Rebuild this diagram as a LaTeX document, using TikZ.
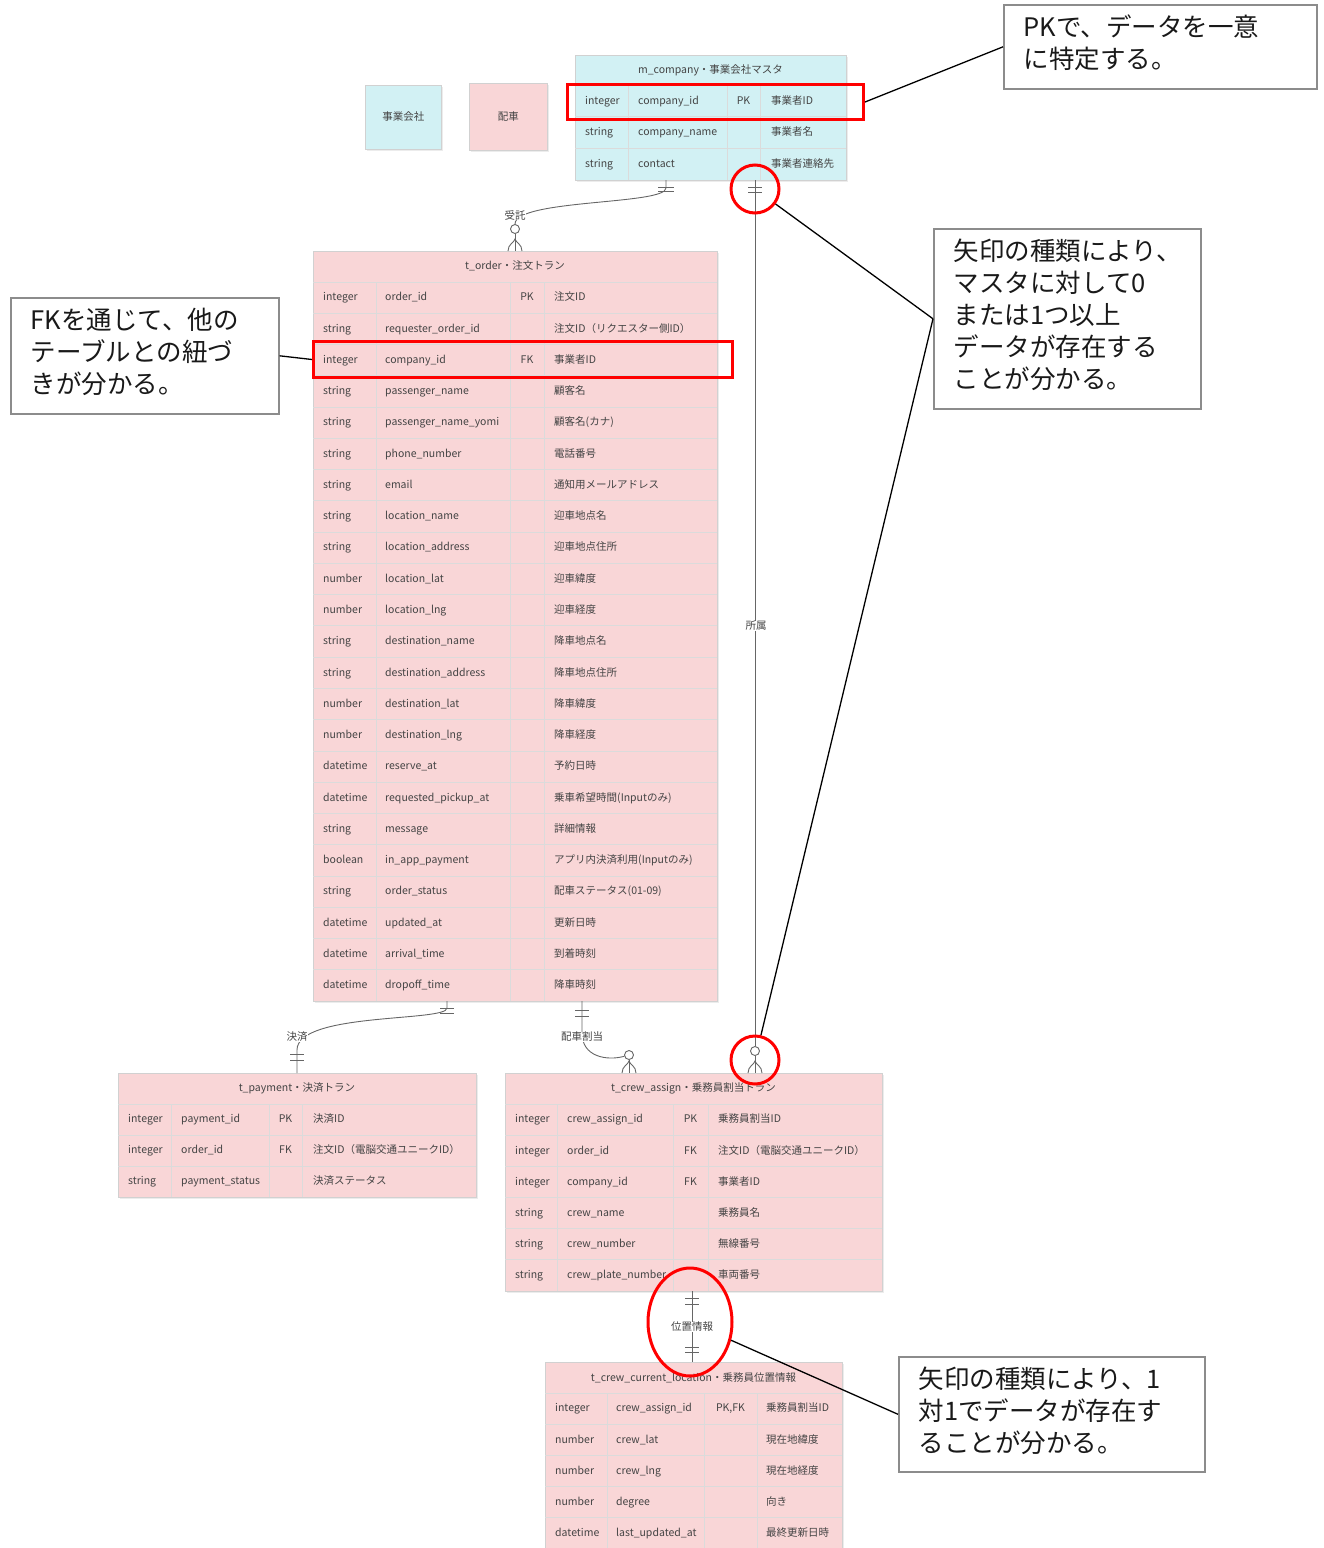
\documentclass[tikz,border=0pt]{standalone}
\usepackage{fontspec}
\setmainfont{Noto Sans CJK JP}
\usetikzlibrary{shapes.geometric,shadows}
\definecolor{cyanfill}{HTML}{D2F1F4}
\definecolor{pinkfill}{HTML}{F9D6D7}
\definecolor{inktext}{HTML}{444444}
\tikzset{
TABLE/.style={draw=black!18,line width=0.8pt,fill=#1,drop shadow={opacity=0.15,shadow xshift=1.5pt,shadow yshift=-1.5pt}},
TABLE/.default=pinkfill,
GRID/.style={draw=black!14,line width=0.8pt},
CELL/.style={inner sep=0pt,text=inktext,font=\fontsize{10.5}{12}\selectfont,text height=1.6ex,text depth=.4ex},
ERLINE/.style={draw=black!60,line width=0.9pt},
ERRING/.style={circle,draw=black!60,line width=0.9pt,fill=white,minimum size=9pt,inner sep=0pt},
ERLABEL/.style={fill=white,inner sep=0.5pt,text=inktext,font=\fontsize{10.5}{12}\selectfont},
HILITE/.style={draw=red,line width=3pt,inner sep=0pt},
NOTE/.style={draw=black!45,line width=1.6pt,fill=white,anchor=north west,align=left,inner xsep=20pt,text height=14pt,text=black!90,font=\fontsize{25.5}{32}\selectfont},
POINTER/.style={draw=black,line width=1.3pt},
}
\begin{document}
\begin{tikzpicture}[x=1pt,y=-1pt] %ER diagram
	\useasboundingbox (0,0) rectangle (1324,1548);
	\node[TABLE=cyanfill,CELL,minimum width=76pt,minimum height=64pt,anchor=north west] (legcompany) at (365,85) {事業会社};
	\node[TABLE,CELL,minimum width=78pt,minimum height=67pt,anchor=north west] (legdispatch) at (469,83) {配車};
	% m_company
	\node[TABLE=cyanfill,minimum width=271pt,minimum height=125pt,anchor=north west] (company) at (575,55) {};
	\node[CELL] (company-title) at (710.5,70) {m\_company・事業会社マスタ};
	\path[GRID] (575,85) -- (846,85);
	\foreach \x in {628,727,760} \path[GRID] (\x,85) -- (\x,180);
	\foreach \ftype/\fname/\fkey/\fnote [count=\i] in {
		integer/company\_id/PK/事業者ID,
		string/company\_name/{}/事業者名,
		string/contact/{}/事業者連絡先}{
		\pgfmathsetmacro\ry{85+(\i-0.5)*31.67}
		\ifnum\i>1 \path[GRID] (575,{85+(\i-1)*31.67}) -- (846,{85+(\i-1)*31.67}); \fi
		\node[CELL,anchor=west] (company-\i-type) at (585,\ry) {\ftype};
		\node[CELL,anchor=west] (company-\i-name) at (638,\ry) {\fname};
		\node[CELL] (company-\i-key) at (743.5,\ry) {\fkey};
		\node[CELL,anchor=west] (company-\i-note) at (771,\ry) {\fnote};
	}
	% t_order
	\node[TABLE,minimum width=404pt,minimum height=750pt,anchor=north west] (order) at (313,251) {};
	\node[CELL] (order-title) at (515,266) {t\_order・注文トラン};
	\path[GRID] (313,282) -- (717,282);
	\foreach \x in {376,510,544} \path[GRID] (\x,282) -- (\x,1001);
	\foreach \ftype/\fname/\fkey/\fnote [count=\i] in {
		integer/order\_id/PK/注文ID,
		string/requester\_order\_id/{}/注文ID（リクエスター側ID）,
		integer/company\_id/FK/事業者ID,
		string/passenger\_name/{}/顧客名,
		string/passenger\_name\_yomi/{}/顧客名(カナ),
		string/phone\_number/{}/電話番号,
		string/email/{}/通知用メールアドレス,
		string/location\_name/{}/迎車地点名,
		string/location\_address/{}/迎車地点住所,
		number/location\_lat/{}/迎車緯度,
		number/location\_lng/{}/迎車経度,
		string/destination\_name/{}/降車地点名,
		string/destination\_address/{}/降車地点住所,
		number/destination\_lat/{}/降車緯度,
		number/destination\_lng/{}/降車経度,
		datetime/reserve\_at/{}/予約日時,
		datetime/requested\_pickup\_at/{}/乗車希望時間(Inputのみ),
		string/message/{}/詳細情報,
		boolean/in\_app\_payment/{}/アプリ内決済利用(Inputのみ),
		string/order\_status/{}/配車ステータス(01-09),
		datetime/updated\_at/{}/更新日時,
		datetime/arrival\_time/{}/到着時刻,
		datetime/dropoff\_time/{}/降車時刻}{
		\pgfmathsetmacro\ry{282+(\i-0.5)*31.26}
		\ifnum\i>1 \path[GRID] (313,{282+(\i-1)*31.26}) -- (717,{282+(\i-1)*31.26}); \fi
		\node[CELL,anchor=west] (order-\i-type) at (323,\ry) {\ftype};
		\node[CELL,anchor=west] (order-\i-name) at (385,\ry) {\fname};
		\node[CELL] (order-\i-key) at (527,\ry) {\fkey};
		\node[CELL,anchor=west] (order-\i-note) at (554,\ry) {\fnote};
	}
	% t_payment
	\node[TABLE,minimum width=358pt,minimum height=124pt,anchor=north west] (payment) at (118,1073) {};
	\node[CELL] (payment-title) at (297,1088) {t\_payment・決済トラン};
	\path[GRID] (118,1104) -- (476,1104);
	\foreach \x in {171,269,302} \path[GRID] (\x,1104) -- (\x,1197);
	\foreach \ftype/\fname/\fkey/\fnote [count=\i] in {
		integer/payment\_id/PK/決済ID,
		integer/order\_id/FK/注文ID（電脳交通ユニークID）,
		string/payment\_status/{}/決済ステータス}{
		\pgfmathsetmacro\ry{1104+(\i-0.5)*31}
		\ifnum\i>1 \path[GRID] (118,{1104+(\i-1)*31}) -- (476,{1104+(\i-1)*31}); \fi
		\node[CELL,anchor=west] (payment-\i-type) at (128,\ry) {\ftype};
		\node[CELL,anchor=west] (payment-\i-name) at (181,\ry) {\fname};
		\node[CELL] (payment-\i-key) at (285.5,\ry) {\fkey};
		\node[CELL,anchor=west] (payment-\i-note) at (313,\ry) {\fnote};
	}
	% t_crew_assign
	\node[TABLE,minimum width=377pt,minimum height=218pt,anchor=north west] (assign) at (505,1073) {};
	\node[CELL] (assign-title) at (693.5,1088) {t\_crew\_assign・乗務員割当トラン};
	\path[GRID] (505,1104) -- (882,1104);
	\foreach \x in {557,673,708} \path[GRID] (\x,1104) -- (\x,1291);
	\foreach \ftype/\fname/\fkey/\fnote [count=\i] in {
		integer/crew\_assign\_id/PK/乗務員割当ID,
		integer/order\_id/FK/注文ID（電脳交通ユニークID）,
		integer/company\_id/FK/事業者ID,
		string/crew\_name/{}/乗務員名,
		string/crew\_number/{}/無線番号,
		string/crew\_plate\_number/{}/車両番号}{
		\pgfmathsetmacro\ry{1104+(\i-0.5)*31.17}
		\ifnum\i>1 \path[GRID] (505,{1104+(\i-1)*31.17}) -- (882,{1104+(\i-1)*31.17}); \fi
		\node[CELL,anchor=west] (assign-\i-type) at (515,\ry) {\ftype};
		\node[CELL,anchor=west] (assign-\i-name) at (567,\ry) {\fname};
		\node[CELL] (assign-\i-key) at (690.5,\ry) {\fkey};
		\node[CELL,anchor=west] (assign-\i-note) at (718,\ry) {\fnote};
	}
	% t_crew_current_location
	\node[TABLE,minimum width=297pt,minimum height=187pt,anchor=north west] (location) at (545,1362) {};
	\node[CELL] (location-title) at (693.5,1378) {t\_crew\_current\_location・乗務員位置情報};
	\path[GRID] (545,1393) -- (842,1393);
	\foreach \x in {607,704,757} \path[GRID] (\x,1393) -- (\x,1549);
	\foreach \ftype/\fname/\fkey/\fnote [count=\i] in {
		integer/crew\_assign\_id/{PK,FK}/乗務員割当ID,
		number/crew\_lat/{}/現在地緯度,
		number/crew\_lng/{}/現在地経度,
		number/degree/{}/向き,
		datetime/last\_updated\_at/{}/最終更新日時}{
		\pgfmathsetmacro\ry{1393+(\i-0.5)*31.2}
		\ifnum\i>1 \path[GRID] (545,{1393+(\i-1)*31.2}) -- (842,{1393+(\i-1)*31.2}); \fi
		\node[CELL,anchor=west] (location-\i-type) at (555,\ry) {\ftype};
		\node[CELL,anchor=west] (location-\i-name) at (616,\ry) {\fname};
		\node[CELL] (location-\i-key) at (730.5,\ry) {\fkey};
		\node[CELL,anchor=west] (location-\i-note) at (766,\ry) {\fnote};
	}
	% relations
	\coordinate (jutaku-a) at (666,180);
	\coordinate (jutaku-b) at (515,251);
	\node[ERRING] (jutaku-o) at (515,229) {};
	\path[ERLINE] (jutaku-a) -- ++(0,8) .. controls +(0,17) and +(0,-30) .. (jutaku-o);
	\path[ERLINE] (jutaku-o) -- (jutaku-b);
	\path[ERLINE] (jutaku-a) ++(-8,7) -- ++(16,0) ++(-16,4) -- ++(16,0);
	\path[ERLINE] (jutaku-b) ++(-7,0) .. controls +(0,-7) and +(-1,4) .. ++(7,-12) .. controls +(1,4) and +(0,-7) .. ++(7,12);
	\node[ERLABEL] (jutaku-l) at (515,215) {受託};
	\coordinate (shozoku-a) at (755,180);
	\coordinate (shozoku-b) at (755,1073);
	\node[ERRING] (shozoku-o) at (755,1051) {};
	\path[ERLINE] (shozoku-a) -- (shozoku-o) -- (shozoku-b);
	\path[ERLINE] (shozoku-a) ++(-7,7) -- ++(14,0) ++(-14,5) -- ++(14,0);
	\path[ERLINE] (shozoku-b) ++(-7,0) .. controls +(0,-7) and +(-1,4) .. ++(7,-12) .. controls +(1,4) and +(0,-7) .. ++(7,12);
	\node[ERLABEL] (shozoku-l) at (756,626) {所属};
	\coordinate (kessai-a) at (447,1001);
	\coordinate (kessai-b) at (297,1073);
	\path[ERLINE] (kessai-a) -- ++(0,7) .. controls +(0,14) and +(0,-38) .. ++(-150,42) -- (kessai-b);
	\path[ERLINE] (kessai-a) ++(-7,7) -- ++(14,0) ++(-14,5) -- ++(14,0);
	\path[ERLINE] (kessai-b) ++(-7,-13) -- ++(14,0) ++(-14,-6) -- ++(14,0);
	\node[ERLABEL] (kessai-l) at (297,1037) {決済};
	\coordinate (haisha-a) at (582,1001);
	\coordinate (haisha-b) at (629,1073);
	\node[ERRING] (haisha-o) at (629,1055) {};
	\path[ERLINE] (haisha-a) -- ++(0,32) .. controls +(0,24) and +(-22,6) .. (haisha-o);
	\path[ERLINE] (haisha-o) -- (haisha-b);
	\path[ERLINE] (haisha-a) ++(-7,9) -- ++(14,0) ++(-14,6) -- ++(14,0);
	\path[ERLINE] (haisha-b) ++(-7,0) .. controls +(0,-7) and +(-1,4) .. ++(7,-12) .. controls +(1,4) and +(0,-7) .. ++(7,12);
	\node[ERLABEL] (haisha-l) at (582,1037) {配車割当};
	\coordinate (ichi-a) at (692,1291);
	\coordinate (ichi-b) at (692,1362);
	\path[ERLINE] (ichi-a) -- (ichi-b);
	\path[ERLINE] (ichi-a) ++(-7,7) -- ++(14,0) ++(-14,6) -- ++(14,0);
	\path[ERLINE] (ichi-b) ++(-7,-10) -- ++(14,0) ++(-14,-5) -- ++(14,0);
	\node[ERLABEL] (ichi-l) at (692,1327) {位置情報};
	% markings and notes
	\node[HILITE,minimum width=296pt,minimum height=35pt,anchor=north west] (pkmark) at (566,83) {};
	\node[HILITE,minimum width=419pt,minimum height=36pt,anchor=north west] (fkmark) at (312,340) {};
	\node[HILITE,circle,minimum size=48pt] (topring) at (755,189) {};
	\node[HILITE,circle,minimum size=48pt] (footring) at (755,1060) {};
	\node[HILITE,ellipse,minimum width=84pt,minimum height=108pt] (onering) at (690,1322) {};
	\node[NOTE,minimum width=313pt,minimum height=84pt,text width=273pt] (pknote) at (1003,4) {PKで、データを一意\\に特定する。};
	\node[NOTE,minimum width=268pt,minimum height=116pt,text width=228pt] (fknote) at (10,297) {FKを通じて、他の\\テーブルとの紐づ\\きが分かる。};
	\node[NOTE,minimum width=267pt,minimum height=180pt,text width=227pt] (manynote) at (933,228) {矢印の種類により、\\マスタに対して0\\または1つ以上\\データが存在する\\ことが分かる。};
	\node[NOTE,minimum width=306pt,minimum height=115pt,text width=266pt] (onenote) at (898,1356) {矢印の種類により、1\\対1でデータが存在す\\ることが分かる。};
	\path[POINTER] (pkmark.east) -- (pknote.west);
	\path[POINTER] (fknote.east) -- (fkmark.west);
	\path[POINTER] (manynote.west) -- (topring);
	\path[POINTER] (manynote.west) -- (footring);
	\path[POINTER] (onering) -- (onenote.west);
\end{tikzpicture}
\end{document}
